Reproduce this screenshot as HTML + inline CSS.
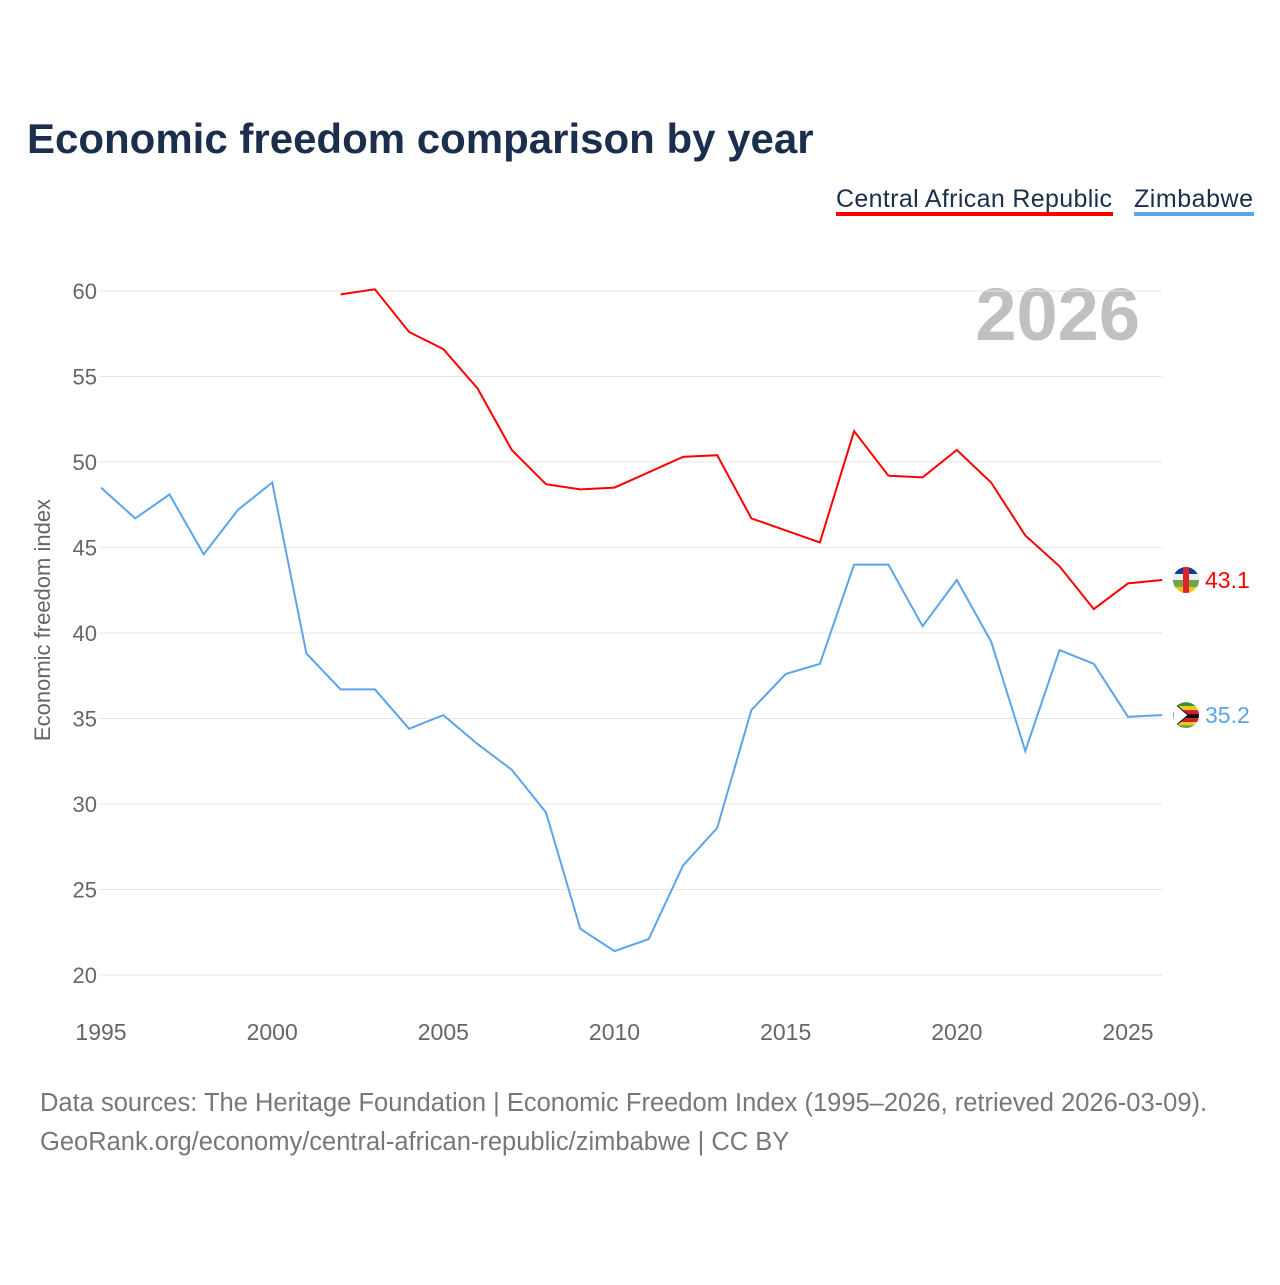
<!DOCTYPE html>
<html><head><meta charset="utf-8">
<style>
html,body{margin:0;padding:0;background:#fff;}
body{width:1280px;height:1280px;overflow:hidden;font-family:"Liberation Sans",sans-serif;}
</style></head>
<body>
<svg id="chart" width="1280" height="1280" xmlns="http://www.w3.org/2000/svg" font-family="Liberation Sans, sans-serif">
<defs>
<clipPath id="clipCar"><circle id="ccCar" cx="1186" cy="0" r="13"/></clipPath>
<clipPath id="clipZw"><circle id="ccZw" cx="1186" cy="0" r="13"/></clipPath>
</defs>
<text x="27" y="153" font-size="42" font-weight="bold" fill="#1b2e4b">Economic freedom comparison by year</text>
<g>
<text x="836" y="207" font-size="25" fill="#1b2e4b" textLength="276">Central African Republic</text>
<rect x="836" y="212" width="277" height="4" fill="#ff0000"/>
<text x="1134" y="207" font-size="25" fill="#1b2e4b" textLength="119">Zimbabwe</text>
<rect x="1134" y="212" width="120" height="4" fill="#5ba4eb"/>
</g>
<text x="1140" y="340" font-size="74" font-weight="bold" fill="#c0c0c0" text-anchor="end">2026</text>
<text transform="translate(50,620) rotate(-90)" font-size="22" fill="#666" text-anchor="middle">Economic freedom index</text>
<g id="grid"></g><g id="ticks"></g><g id="series"></g>
<text x="40" y="1111" font-size="25.5" fill="#777">Data sources: The Heritage Foundation | Economic Freedom Index (1995–2026, retrieved 2026-03-09).</text>
<text x="40" y="1150" font-size="25.5" fill="#777">GeoRank.org/economy/central-african-republic/zimbabwe | CC BY</text>
</svg>
<script>
const carYears=[2002,2003,2004,2005,2006,2007,2008,2009,2010,2011,2012,2013,2014,2015,2016,2017,2018,2019,2020,2021,2022,2023,2024,2025,2026];
const carValues=[59.8,60.1,57.6,56.6,54.3,50.7,48.7,48.4,48.5,49.4,50.3,50.4,46.7,46.0,45.3,51.8,49.2,49.1,50.7,48.8,45.7,43.9,41.4,42.9,43.1];
const zwYears=[1995,1996,1997,1998,1999,2000,2001,2002,2003,2004,2005,2006,2007,2008,2009,2010,2011,2012,2013,2014,2015,2016,2017,2018,2019,2020,2021,2022,2023,2024,2025,2026];
const zwValues=[48.5,46.7,48.1,44.6,47.2,48.8,38.8,36.7,36.7,34.4,35.2,33.5,32.0,29.5,22.7,21.4,22.1,26.4,28.6,35.5,37.6,38.2,44.0,44.0,40.4,43.1,39.5,33.1,39.0,38.2,35.1,35.2];
const yTicks=[20,25,30,35,40,45,50,55,60];
const xTicks=[1995,2000,2005,2010,2015,2020,2025];
const NS="http://www.w3.org/2000/svg";
function xS(yr){return 101+(yr-1995)*(1128-101)/30;}
function yS(v){return 975-(v-20)*(975-291)/40;}
function mk(tag,attrs,parent){const e=document.createElementNS(NS,tag);for(const k in attrs)e.setAttribute(k,attrs[k]);parent.appendChild(e);return e;}
const grid=document.getElementById('grid'),ticks=document.getElementById('ticks'),series=document.getElementById('series');
yTicks.forEach(v=>{
 const l=mk('line',{x1:100,x2:1162,y1:yS(v),y2:yS(v),stroke:'#e6e6e6','stroke-width':1},grid);
 
 
 const t=mk('text',{x:97,y:yS(v)+8,'font-size':22,fill:'#666','text-anchor':'end'},ticks);
 t.textContent=v;
 
 
});
xTicks.forEach(yr=>{
 const t=mk('text',{x:xS(yr),y:1040,'font-size':23,fill:'#666','text-anchor':'middle'},ticks);
 t.textContent=yr;
 
 
});
function drawLine(years,vals,color,name){
 const d=years.map((y,i)=>(i?'L':'M')+xS(y).toFixed(1)+','+yS(vals[i]).toFixed(1)).join('');
 const p=mk('path',{d:d,fill:'none',stroke:color,'stroke-width':2},series);
 
 
 const last=vals[vals.length-1],ly=yS(last);
 const t=mk('text',{x:1205,y:ly+8,'font-size':23,fill:color},series);
 t.textContent=last.toFixed(1);
 
 
 return ly;
}
const carY=drawLine(carYears,carValues,'#ff0000','car');
const zwY=drawLine(zwYears,zwValues,'#5ba4eb','zimbabwe');
document.getElementById('ccCar').setAttribute('cy',carY);
document.getElementById('ccZw').setAttribute('cy',zwY);
const gC=mk('g',{'clip-path':'url(#clipCar)'},series);


mk('rect',{x:1173,y:carY-13,width:26,height:7,fill:'#0a3f9e'},gC);
mk('rect',{x:1173,y:carY-6,width:26,height:6,fill:'#eee'},gC);
mk('rect',{x:1173,y:carY,width:26,height:7,fill:'#6aa84f'},gC);
mk('rect',{x:1173,y:carY+7,width:26,height:6,fill:'#f5c518'},gC);
mk('rect',{x:1183,y:carY-13,width:6,height:26,fill:'#e0202a'},gC);
const gZ=mk('g',{'clip-path':'url(#clipZw)'},series);


mk('rect',{x:1173,y:zwY-13,width:26,height:4,fill:'#3a8f3a'},gZ);
mk('rect',{x:1173,y:zwY-9,width:26,height:4,fill:'#f5c518'},gZ);
mk('rect',{x:1173,y:zwY-5,width:26,height:4,fill:'#d21f2a'},gZ);
mk('rect',{x:1173,y:zwY-1,width:26,height:4,fill:'#111'},gZ);
mk('rect',{x:1173,y:zwY+3,width:26,height:4,fill:'#d21f2a'},gZ);
mk('rect',{x:1173,y:zwY+7,width:26,height:3,fill:'#f5c518'},gZ);
mk('rect',{x:1173,y:zwY+10,width:26,height:3,fill:'#6aa84f'},gZ);
mk('path',{d:`M1173,${zwY-13}L1188,${zwY}L1173,${zwY+13}Z`,fill:'#fff',stroke:'#111','stroke-width':1},gZ);
</script>
</body></html>
